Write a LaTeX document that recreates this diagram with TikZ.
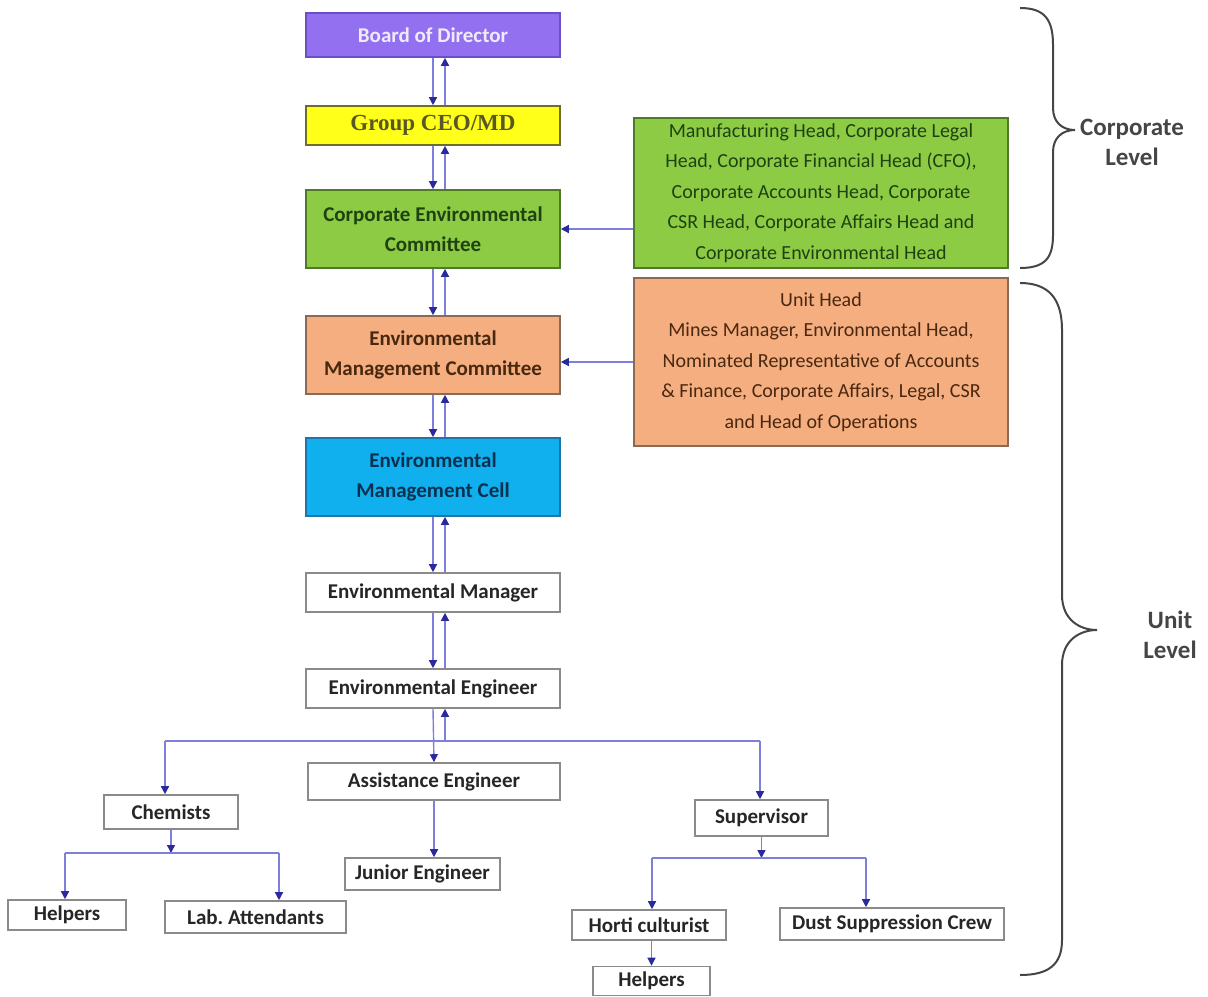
\documentclass[tikz,border=0pt]{standalone}
\usepackage{fontspec}
\setmainfont{Carlito}
\newfontfamily\serifbold{Liberation Serif}
\usetikzlibrary{arrows.meta}
\definecolor{lnc}{HTML}{7E7EDC}
\definecolor{tipc}{HTML}{2A2A9C}
\definecolor{purp}{HTML}{9270F0}
\definecolor{purpd}{HTML}{6A50C0}
\definecolor{yel}{HTML}{FFFF1A}
\definecolor{yeld}{HTML}{6E6E2A}
\definecolor{grn}{HTML}{8DCB45}
\definecolor{grnd}{HTML}{4F7A2A}
\definecolor{grnt}{HTML}{1E4210}
\definecolor{org}{HTML}{F5AE80}
\definecolor{orgd}{HTML}{8A6A55}
\definecolor{orgt}{HTML}{4A2810}
\definecolor{blu}{HTML}{10B0EE}
\definecolor{blud}{HTML}{2075A8}
\definecolor{blut}{HTML}{0A3050}
\definecolor{boxd}{HTML}{8A8A8A}
\definecolor{txt}{HTML}{262626}
\definecolor{brc}{HTML}{454545}
\tikzset{
  x=0.5pt, y=-0.5pt,
  bx/.style={draw, line width=0.8pt, inner sep=0pt, align=center, font=\fontsize{10.5}{15}\selectfont\bfseries},
  wbox/.style={bx, draw=boxd, fill=white, text=txt},
  ln/.style={draw=lnc, line width=0.7pt},
  arr/.style={ln, -{Triangle[length=4pt,width=4pt,color=tipc]}},
  brace/.style={draw=brc, line width=1pt},
  lvl/.style={font=\fontsize{12.5}{15}\selectfont\bfseries, text=brc, align=center}
}
\begin{document}
\begin{tikzpicture}
\useasboundingbox (0,0) rectangle (1208,996);
% main column
\node[bx, draw=purpd, fill=purp, text=white!85!purp, minimum width=127pt, minimum height=22pt] (board) at (433,35) {Board of Director};
\node[bx, draw=yeld, fill=yel, text=yeld!80!black, minimum width=127pt, minimum height=19.5pt, font=\serifbold\fontsize{11.5}{14}\selectfont\bfseries] (ceo) at (433,125.5) {Group CEO/MD};
\node[bx, draw=grnd, fill=grn, text=grnt, minimum width=127pt, minimum height=39pt] (cec) at (433,229) {Corporate Environmental\\Committee};
\node[bx, draw=orgd, fill=org, text=orgt, minimum width=127pt, minimum height=39pt] (emc) at (433,355) {Environmental\\Management Committee};
\node[bx, draw=blud, fill=blu, text=blut, minimum width=127pt, minimum height=39pt] (cell) at (433,477) {Environmental\\Management Cell};
\node[wbox, minimum width=127pt, minimum height=19.5pt] (mgr) at (433,592.5) {Environmental Manager};
\node[wbox, minimum width=127pt, minimum height=19.5pt] (eng) at (433,688.5) {Environmental Engineer};
\node[wbox, minimum width=126pt, minimum height=18.5pt] (asst) at (434,781.5) {Assistance Engineer};
\node[wbox, minimum width=67pt, minimum height=17pt] (chem) at (171,812) {Chemists};
\node[wbox, minimum width=77.5pt, minimum height=16pt] (jr) at (422.5,874) {Junior Engineer};
\node[wbox, minimum width=59pt, minimum height=15pt] (helpL) at (67,915) {Helpers};
\node[wbox, minimum width=90.5pt, minimum height=16pt] (lab) at (255.5,917) {Lab.\ Attendants};
\node[wbox, minimum width=66.5pt, minimum height=18pt] (sup) at (761.5,818) {Supervisor};
\node[wbox, minimum width=77pt, minimum height=15pt] (horti) at (649,925) {Horti culturist};
\node[wbox, minimum width=112pt, minimum height=16pt] (dust) at (892,924) {Dust Suppression Crew};
\node[wbox, minimum width=58.5pt, minimum height=14.5pt] (helpB) at (651.5,981) {Helpers};
% right boxes
\node[bx, draw=grnd, fill=grn, text=grnt, minimum width=187pt, minimum height=75pt, font=\fontsize{10}{15.2}\selectfont] (gr) at (821,193) {Manufacturing Head, Corporate Legal\\Head, Corporate Financial Head (CFO),\\Corporate Accounts Head, Corporate\\CSR Head, Corporate Affairs Head and\\Corporate Environmental Head};
\node[bx, draw=orgd, fill=org, text=orgt, minimum width=187pt, minimum height=84pt, font=\fontsize{10}{15.2}\selectfont] (or) at (821,362) {Unit Head\\Mines Manager, Environmental Head,\\Nominated Representative of Accounts\\\& Finance, Corporate Affairs, Legal, CSR\\and Head of Operations};
% double connectors in main column
\foreach \u/\l in {board/ceo, ceo/cec, cec/emc, emc/cell, cell/mgr, mgr/eng}{
  \draw[arr] (\u.south) -- (\l.north);
  \draw[arr] ([xshift=6pt]\l.north) -- ([xshift=6pt]\u.south);
}
% side arrows
\draw[arr] (cec.east -| gr.west) -- (cec.east);
\draw[arr] (or.west) -- (or.west -| emc.east);
% bus below engineer
\coordinate (busL) at (165,741);
\coordinate (busR) at (760,741);
\draw[ln] (busL) -- (busR);
\draw[arr] ([xshift=6pt]eng.south |- busL) -- ([xshift=6pt]eng.south);
\draw[arr] (eng.south) -- (asst.north);
\draw[arr] (busL) -- (busL |- chem.north);
\draw[arr] (busR) -- (busR |- sup.north);
\draw[arr] (asst.south) -- (asst.south |- jr.north);
% chemists subtree
\coordinate (cb) at (171,853);
\coordinate (cbL) at (65,853);
\coordinate (cbR) at (279,853);
\draw[arr] (chem.south) -- (cb);
\draw[ln] (cbL) -- (cbR);
\draw[arr] (cbL) -- (cbL |- helpL.north);
\draw[arr] (cbR) -- (cbR |- lab.north);
% supervisor subtree
\coordinate (sb) at (761.5,858);
\coordinate (sbL) at (652,858);
\coordinate (sbR) at (866,858);
\draw[arr] (sup.south) -- (sb);
\draw[ln] (sbL) -- (sbR);
\draw[arr] (sbL) -- (sbL |- horti.north);
\draw[arr] (sbR) -- (sbR |- dust.north);
\draw[arr] (horti.south -| helpB.north) -- (helpB.north);
% braces
\draw[brace] (1020,8) .. controls (1045,8) and (1053,20) .. (1053,45) -- (1053,108)
  .. controls (1053,122) and (1062,130) .. (1075,130)
  .. controls (1062,130) and (1053,138) .. (1053,152) -- (1053,235)
  .. controls (1053,258) and (1045,268) .. (1020,268);
\draw[brace] (1020,283) .. controls (1048,283) and (1062,298) .. (1062,330) -- (1062,595)
  .. controls (1062,620) and (1080,630) .. (1097,630)
  .. controls (1080,630) and (1062,640) .. (1062,665) -- (1062,940)
  .. controls (1062,965) and (1048,975) .. (1020,975);
\node[lvl] (corp) at (1132,142) {Corporate\\Level};
\node[lvl] (unit) at (1170,635) {Unit\\Level};
\end{tikzpicture}
\end{document}
